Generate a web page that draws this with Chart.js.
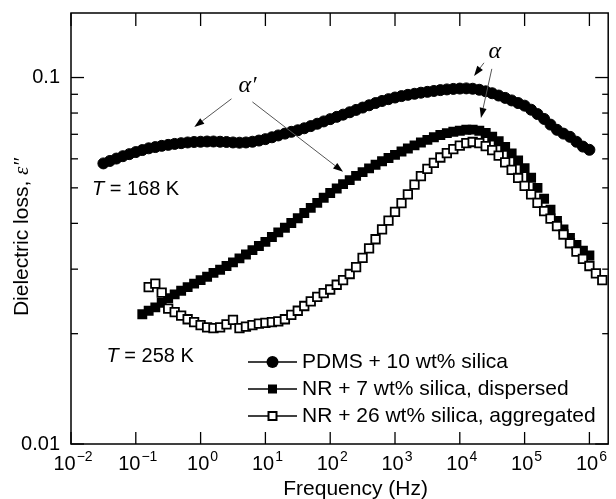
<!DOCTYPE html>
<html><head><meta charset="utf-8">
<script src="https://cdn.jsdelivr.net/npm/chart.js@4.4.1/dist/chart.umd.min.js"></script>
<style>html,body{margin:0;padding:0;background:#fff;overflow:hidden}canvas{display:block}</style>
</head><body>
<canvas id="c" width="616" height="499"></canvas>
<script>
// ---- data (frequency grid in Hz, loss values) ----
const freqHz = [0.0316,0.0398,0.0501,0.0631,0.0794,
  0.1,0.126,0.158,0.2,0.251,0.316,0.398,0.501,0.631,0.794,
  1,1.26,1.58,2,2.51,3.16,3.98,5.01,6.31,7.94,
  10,12.6,15.8,20,25.1,31.6,39.8,50.1,63.1,79.4,
  100,126,158,200,251,316,398,501,631,794,
  1000,1260,1580,2000,2510,3160,3980,5010,6310,7940,
  1e4,1.26e4,1.58e4,2e4,2.51e4,3.16e4,3.98e4,5.01e4,6.31e4,7.94e4,
  1e5,1.26e5,1.58e5,2e5,2.51e5,3.16e5,3.98e5,5.01e5,6.31e5,7.94e5,
  1e6,1.26e6,1.58e6];
const pdmsLoss = [0.0583,0.0592,0.0601,0.0610,0.0618,
  0.0626,0.0634,0.0641,0.0646,0.0651,0.0655,0.0659,0.0662,0.0665,0.0667,
  0.0668,0.0669,0.0669,0.0668,0.0667,0.0665,0.0664,0.0665,0.0668,0.0673,
  0.0679,0.0687,0.0695,0.0703,0.0711,0.0718,0.0727,0.0737,0.0748,0.0759,
  0.0770,0.0781,0.0792,0.0804,0.0816,0.0828,0.0840,0.0852,0.0863,0.0873,
  0.0882,0.0890,0.0897,0.0903,0.0909,0.0914,0.0919,0.0924,0.0928,0.0931,
  0.0933,0.0934,0.0932,0.0926,0.0917,0.0906,0.0893,0.0880,0.0866,0.0852,
  0.0838,0.0817,0.0795,0.0771,0.0744,0.0720,0.0703,0.0689,0.0668,0.0648,
  0.0635,null,null];
const nr7Loss = [null,null,null,null,null,
  null,0.0226,0.0231,0.0236,0.0243,0.0250,0.0256,0.0262,0.0268,0.0274,
  0.0280,0.0286,0.0293,0.0299,0.0306,0.0313,0.0321,0.0329,0.0338,0.0347,
  0.0356,0.0367,0.0378,0.0389,0.0401,0.0413,0.0427,0.0441,0.0455,0.0470,
  0.0484,0.0498,0.0512,0.0525,0.0539,0.0552,0.0565,0.0578,0.0591,0.0603,
  0.0615,0.0628,0.0640,0.0653,0.0665,0.0676,0.0687,0.0697,0.0705,0.0711,
  0.0716,0.0720,0.0721,0.0716,0.0706,0.0690,0.0670,0.0647,0.0621,0.0594,
  0.0566,0.0533,0.0500,0.0467,0.0436,0.0406,0.0385,0.0365,0.0349,0.0337,
  0.0327,null,null];
const nr26Loss = [null,null,null,null,null,
  null,null,0.0268,0.0274,0.0259,0.0234,0.0229,0.0224,0.0219,0.0215,
  0.0211,0.0208,0.0207,0.0208,0.0212,0.0218,0.0207,0.0209,0.0211,0.0213,
  0.0214,0.0215,0.0216,0.0219,0.0225,0.0231,0.0238,0.0245,0.0252,0.0258,
  0.0264,0.0272,0.0280,0.0291,0.0304,0.0322,0.0342,0.0362,0.0385,0.0407,
  0.0430,0.0454,0.0480,0.0510,0.0538,0.0563,0.0585,0.0605,0.0622,0.0638,
  0.0652,0.0662,0.0667,0.0662,0.0650,0.0634,0.0612,0.0587,0.0560,0.0532,
  0.0506,0.0480,0.0455,0.0432,0.0412,0.0393,0.0373,0.0353,0.0335,0.0320,
  0.0306,0.0292,0.0280];
const seriesLabels = ['PDMS + 10 wt% silica','NR + 7 wt% silica, dispersed','NR + 26 wt% silica, aggregated'];
const xTickExponents = [-2,-1,0,1,2,3,4,5,6];
const yMajorTicks = [0.01,0.1];
const yMajorLabels = ['0.01','0.1'];
const yMinorTicks = [0.02,0.03,0.04,0.05,0.06,0.07,0.08,0.09];
const xRange = [0.01, 1.95e6];
const yRange = [0.01, 0.15];
// annotation anchors in data coordinates [freq, loss]
const alphaPrimeLabel = [5.3, 0.0949];
const alphaLabel = [3.47e4, 0.118];
const arrows = [
  [[3.0,0.0875],[0.8,0.0733]],
  [[6.3,0.0858],[158,0.0553]],
  [[2.36e4,0.1097],[1.66e4,0.101]],
  [[3.12e4,0.1056],[2.12e4,0.0776]]
];
const tempLabels = [['168', [0.021, 0.0494]], ['258', [0.0353, 0.0173]]];

function pts(vals){ const out=[]; vals.forEach((v,i)=>{ if(v!==null) out.push({x:freqHz[i], y:v}); }); return out; }

const SANS = '"Liberation Sans", Arial, Helvetica, sans-serif';
const SERIF = '"Liberation Serif", "DejaVu Serif", serif';

function arrow(ctx, x1, y1, x2, y2){
  ctx.save();
  ctx.strokeStyle = '#555'; ctx.lineWidth = 1;
  const ang = Math.atan2(y2-y1, x2-x1);
  const L = 10, W = 3.5;
  const bx = x2 - L*Math.cos(ang), by = y2 - L*Math.sin(ang);
  ctx.beginPath(); ctx.moveTo(x1,y1); ctx.lineTo(bx,by); ctx.stroke();
  ctx.fillStyle = '#000';
  ctx.beginPath();
  ctx.moveTo(x2,y2);
  ctx.lineTo(bx + W*Math.sin(ang), by - W*Math.cos(ang));
  ctx.lineTo(bx - W*Math.sin(ang), by + W*Math.cos(ang));
  ctx.closePath(); ctx.fill();
  ctx.restore();
}

function marker(ctx, style, x, y){
  ctx.save();
  ctx.fillStyle = '#000'; ctx.strokeStyle = '#000';
  if (style === 'circle'){ ctx.beginPath(); ctx.arc(x,y,6,0,Math.PI*2); ctx.fill(); }
  else if (style === 'fsq'){ ctx.fillRect(x-4.5,y-4.5,9,9); }
  else { ctx.fillStyle='#fff'; ctx.lineWidth=2; ctx.fillRect(x-4,y-4,8,8); ctx.strokeRect(x-4,y-4,8,8); }
  ctx.restore();
}

const decor = {
  id: 'decor',
  afterDatasetsDraw(chart){
    const {ctx, chartArea: a, scales: {x, y}} = chart;
    ctx.save();
    ctx.strokeStyle = '#000'; ctx.lineWidth = 1.5;
    ctx.strokeRect(a.left, a.top, a.right - a.left, a.bottom - a.top);
    ctx.lineWidth = 1.3;
    const ln = (x1,y1,x2,y2)=>{ ctx.beginPath(); ctx.moveTo(x1,y1); ctx.lineTo(x2,y2); ctx.stroke(); };
    // x ticks + labels
    ctx.fillStyle = '#000';
    xTickExponents.forEach(e=>{
      const px = x.getPixelForValue(Math.pow(10,e));
      ln(px, a.top, px, a.top+13);
      ln(px, a.bottom, px, a.bottom-12);
      const base = '10', ex = (e<0 ? '\u2212' + (-e) : String(e));
      ctx.font = '20px ' + SANS; const bw = ctx.measureText(base).width;
      ctx.font = '14px ' + SANS; const ew = ctx.measureText(ex).width;
      const sx = px - (bw+ew+1)/2 + 2;
      ctx.textAlign = 'left'; ctx.textBaseline = 'alphabetic';
      ctx.font = '20px ' + SANS; ctx.fillText(base, sx, a.bottom + 26);
      ctx.font = '14px ' + SANS; ctx.fillText(ex, sx + bw + 1, a.bottom + 17);
    });
    // y ticks
    yMajorTicks.forEach((v,i)=>{
      const py = y.getPixelForValue(v);
      ln(a.left, py, a.left+13, py);
      ln(a.right, py, a.right-13, py);
      ctx.font = '20px ' + SANS; ctx.textAlign='right'; ctx.textBaseline='middle';
      ctx.fillText(yMajorLabels[i], a.left-11, py);
    });
    yMinorTicks.forEach(v=>{
      const py = y.getPixelForValue(v);
      ln(a.left, py, a.left+7, py);
      ln(a.right, py, a.right-6, py);
    });
    // axis titles
    ctx.font = '21px ' + SANS; ctx.textAlign='center'; ctx.textBaseline='alphabetic';
    ctx.fillText('Frequency (Hz)', (a.left+a.right)/2 + 16, 495);
    ctx.save();
    ctx.translate(28, 237); ctx.rotate(-Math.PI/2);
    ctx.font = '21px ' + SANS; const t1 = 'Dielectric loss, '; const w1 = ctx.measureText(t1).width;
    ctx.font = 'italic 21px ' + SERIF; const t2 = '\u03b5\u2033'; const w2 = ctx.measureText(t2).width;
    ctx.textAlign='left';
    ctx.font = '21px ' + SANS; ctx.fillText(t1, -(w1+w2)/2, 0);
    ctx.font = 'italic 21px ' + SERIF; ctx.fillText(t2, -(w1+w2)/2 + w1, 0);
    ctx.restore();
    // annotations
    ctx.font = 'italic 24px ' + SERIF; ctx.textAlign='center'; ctx.textBaseline='middle';
    ctx.fillText('\u03b1\u2032', x.getPixelForValue(alphaPrimeLabel[0]), y.getPixelForValue(alphaPrimeLabel[1]));
    ctx.fillText('\u03b1', x.getPixelForValue(alphaLabel[0]), y.getPixelForValue(alphaLabel[1]));
    arrows.forEach(([p,q])=>arrow(ctx, x.getPixelForValue(p[0]), y.getPixelForValue(p[1]), x.getPixelForValue(q[0]), y.getPixelForValue(q[1])));
    tempLabels.forEach(([t,[f,v]])=>{
      const px = x.getPixelForValue(f), py = y.getPixelForValue(v);
      ctx.textAlign='left'; ctx.textBaseline='middle';
      ctx.font = 'italic 20px ' + SANS; ctx.fillText('T', px, py);
      const tw = ctx.measureText('T').width;
      ctx.font = '20px ' + SANS; ctx.fillText(' = ' + t + ' K', px + tw, py);
    });
    // legend
    const styles = ['circle','fsq','osq'];
    seriesLabels.forEach((lab,i)=>{
      const ry = 362 + i*27;
      ctx.lineWidth = 1.3; ln(248, ry, 297, ry);
      marker(ctx, styles[i], 272.5, ry);
      ctx.font = '21px ' + SANS; ctx.textAlign='left'; ctx.textBaseline='middle'; ctx.fillStyle='#000';
      ctx.fillText(lab, 302, ry);
    });
    ctx.restore();
  }
};

new Chart(document.getElementById('c'), {
  type: 'scatter',
  data: { datasets: [
    { label: seriesLabels[0], data: pts(pdmsLoss), pointStyle: 'circle', pointRadius: 5.5, pointBorderWidth: 1, backgroundColor: '#000', borderColor: '#000', showLine: false, order: 3 },
    { label: seriesLabels[1], data: pts(nr7Loss), pointStyle: 'rect', pointRadius: 7, pointBorderWidth: 0, backgroundColor: '#000', borderColor: '#000', showLine: false, order: 2 },
    { label: seriesLabels[2], data: pts(nr26Loss), pointStyle: 'rect', pointRadius: 6, pointBorderWidth: 1.8, backgroundColor: '#fff', borderColor: '#000', showLine: false, order: 1 }
  ]},
  options: {
    responsive: false, animation: false, devicePixelRatio: 1,
    layout: { padding: { left: 71, top: 13, right: 0, bottom: 55 } },
    plugins: { legend: { display: false }, tooltip: { enabled: false } },
    scales: {
      x: { type: 'logarithmic', min: xRange[0], max: xRange[1], display: false },
      y: { type: 'logarithmic', min: yRange[0], max: yRange[1], display: false }
    }
  },
  plugins: [decor]
});
</script>
</body></html>
